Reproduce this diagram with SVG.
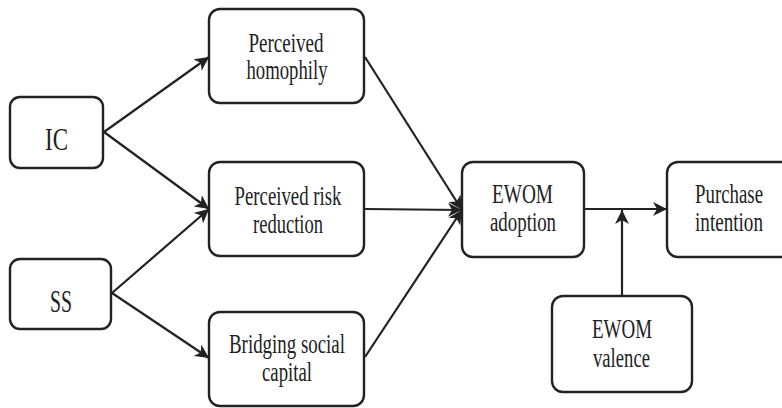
<svg xmlns="http://www.w3.org/2000/svg" width="782" height="408" viewBox="0 0 782 408">
  <style>
    .box { fill: #ffffff; stroke: #222222; stroke-width: 2.4; }
    .lbl { font-family: "Liberation Serif", "Times New Roman", serif; font-size: 28px; fill: #222222; text-anchor: middle; }
    .big { font-size: 32px; }
    .link { stroke: #222222; stroke-width: 2.2; fill: none; marker-end: url(#arrow); }
  </style>
  <defs>
    <marker id="arrow" markerUnits="userSpaceOnUse" markerWidth="16" markerHeight="14" refX="14" refY="7" orient="auto">
      <path d="M0,0 L14,7 L0,14 L4,7 Z" fill="#222222"/>
    </marker>
  </defs>

  <rect width="782" height="408" fill="#ffffff"/>

  <g id="connectors">
    <line class="link" x1="104" y1="132" x2="209" y2="57"/>
    <line class="link" x1="104" y1="132" x2="209" y2="209"/>
    <line class="link" x1="112" y1="293" x2="209" y2="209"/>
    <line class="link" x1="112" y1="293" x2="209" y2="358"/>
    <line class="link" x1="365" y1="57" x2="462" y2="210"/>
    <line class="link" x1="365" y1="209" x2="462" y2="210"/>
    <line class="link" x1="365" y1="357" x2="462" y2="210"/>
    <line class="link" x1="584" y1="209" x2="667" y2="209"/>
    <line class="link" x1="622" y1="296" x2="622" y2="210"/>
  </g>

  <g id="ic">
    <rect class="box" x="10" y="97" width="93" height="71" rx="10"/>
    <text class="lbl big" x="56.5" y="150" textLength="23" lengthAdjust="spacingAndGlyphs">IC</text>
  </g>

  <g id="ss">
    <rect class="box" x="10" y="259" width="101" height="70" rx="10"/>
    <text class="lbl big" x="61" y="312" textLength="22" lengthAdjust="spacingAndGlyphs">SS</text>
  </g>

  <g id="homophily">
    <rect class="box" x="209" y="9" width="155" height="94" rx="11"/>
    <text class="lbl" x="286" y="52" textLength="75" lengthAdjust="spacingAndGlyphs">Perceived</text>
    <text class="lbl" x="287" y="79" textLength="81" lengthAdjust="spacingAndGlyphs">homophily</text>
  </g>

  <g id="risk-reduction">
    <rect class="box" x="209" y="162" width="155" height="94" rx="11"/>
    <text class="lbl" x="288" y="205" textLength="107" lengthAdjust="spacingAndGlyphs">Perceived risk</text>
    <text class="lbl" x="288" y="233" textLength="70" lengthAdjust="spacingAndGlyphs">reduction</text>
  </g>

  <g id="bridging">
    <rect class="box" x="209" y="312" width="155" height="94" rx="11"/>
    <text class="lbl" x="287" y="353" textLength="116" lengthAdjust="spacingAndGlyphs">Bridging social</text>
    <text class="lbl" x="287" y="381" textLength="50" lengthAdjust="spacingAndGlyphs">capital</text>
  </g>

  <g id="ewom-adoption">
    <rect class="box" x="462" y="162" width="122" height="95" rx="11"/>
    <text class="lbl" x="522.5" y="203" textLength="61" lengthAdjust="spacingAndGlyphs">EWOM</text>
    <text class="lbl" x="523" y="231" textLength="66" lengthAdjust="spacingAndGlyphs">adoption</text>
  </g>

  <g id="purchase-intention">
    <rect class="box" x="667" y="162" width="125" height="95" rx="11"/>
    <text class="lbl" x="729" y="203" textLength="68" lengthAdjust="spacingAndGlyphs">Purchase</text>
    <text class="lbl" x="729" y="231" textLength="68" lengthAdjust="spacingAndGlyphs">intention</text>
  </g>

  <g id="ewom-valence">
    <rect class="box" x="552" y="296" width="140" height="96" rx="11"/>
    <text class="lbl" x="622" y="338" textLength="60" lengthAdjust="spacingAndGlyphs">EWOM</text>
    <text class="lbl" x="621.5" y="367" textLength="57" lengthAdjust="spacingAndGlyphs">valence</text>
  </g>
</svg>
